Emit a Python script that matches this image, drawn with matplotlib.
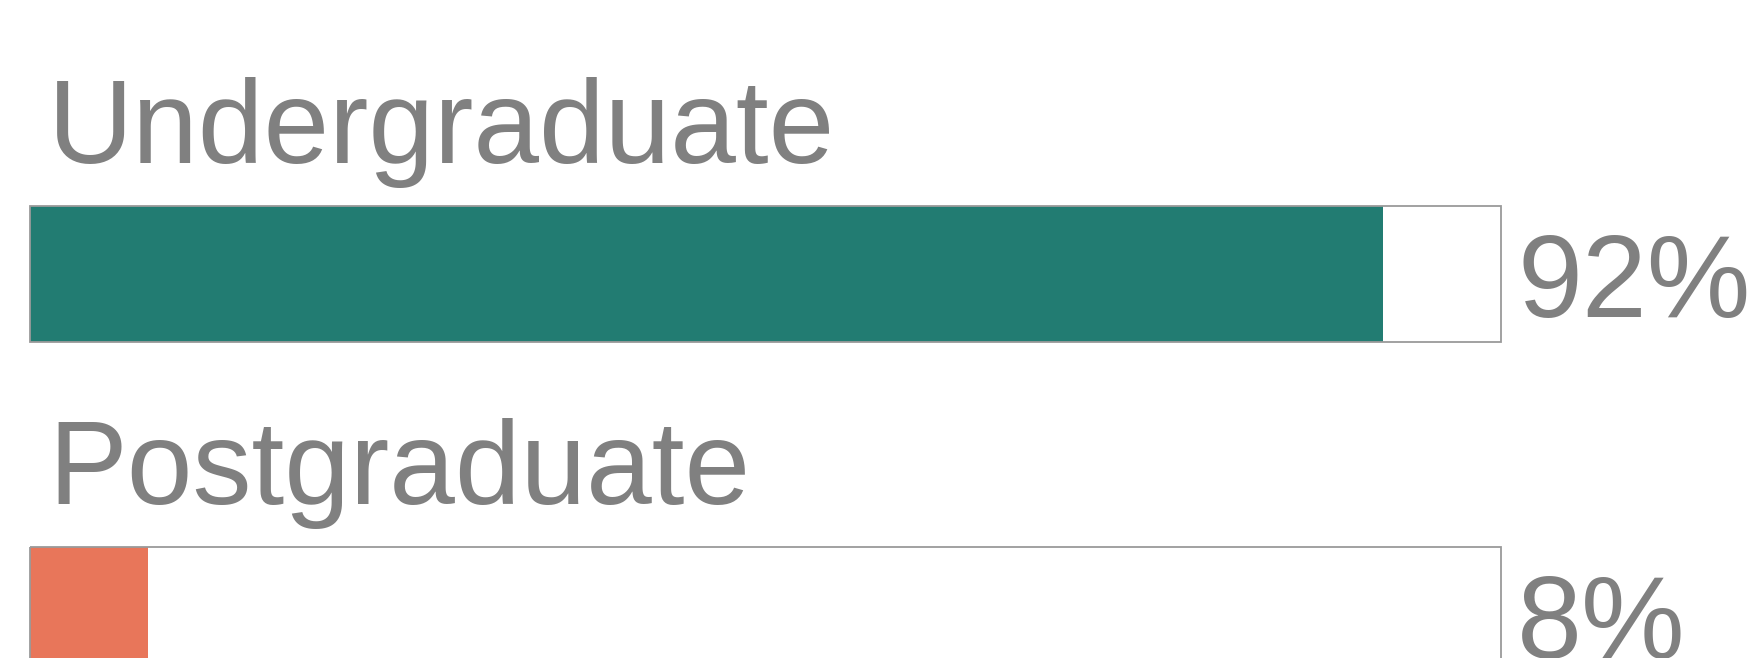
import matplotlib.pyplot as plt

# Data
categories = ['Undergraduate', 'Postgraduate']
shares = [92, 8]
colors = ['#227c72', '#e8765a']

W, H = 1750, 658
fig = plt.figure(figsize=(W / 100, H / 100), dpi=100)
fig.patch.set_facecolor('white')

# axes spans full height, horizontally the box width
box_left, box_right = 30, 1501
ax = fig.add_axes([box_left / W, 0, (box_right - box_left) / W, 1])

# y unit = 341 px between rows; bar centre of row 0 at 274 px from top
unit = 341
c0 = 274
ax.set_xlim(0, 100)
ax.set_ylim((H - c0) / unit, -c0 / unit)
ax.axis('off')

bar_h = 136 / unit
ys = list(range(len(categories)))

ax.barh(ys, shares, height=bar_h, color=colors, linewidth=0, zorder=2)
ax.barh(ys, [100] * len(ys), height=bar_h, facecolor='none',
        edgecolor='#9a9a9a', linewidth=1.3, zorder=3, clip_on=False)

txt = dict(color='#808080', fontfamily='Liberation Sans', clip_on=False)
for y, cat, v in zip(ys, categories, shares):
    ax.text(1.22, y - 111 / unit, cat, fontsize=85, va='baseline', ha='left', **txt)
    ax.text(101.1, y + 43 / unit, f'{v}%', fontsize=84, va='baseline', ha='left', **txt)

fig.savefig('out.png', dpi=100)
